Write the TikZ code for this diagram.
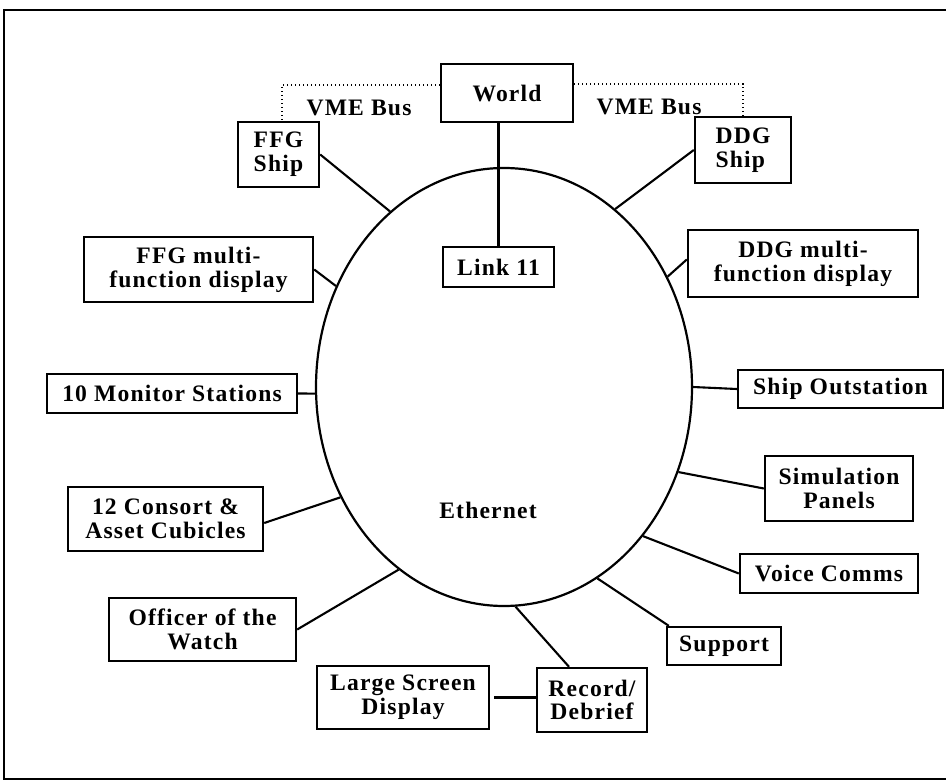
\documentclass[tikz,border=0pt]{standalone}
\usepackage{fontspec}
\setmainfont{Liberation Serif}[LetterSpace=5]
\usetikzlibrary{shapes.geometric}
\begin{document}
\begin{tikzpicture}[x=0.5pt,y=-0.5pt,
  box/.style={draw, line width=1.2pt, inner sep=0pt, align=center,
    font=\fontsize{11.8}{11.9}\selectfont\bfseries},
  lbl/.style={inner sep=0pt, font=\fontsize{11.8}{11.9}\selectfont\bfseries},
  conn/.style={line width=1.05pt},
  bus/.style={line width=0.75pt, dash pattern=on 0.6pt off 1.4pt},
  frame/.style={line width=1.2pt}]
\useasboundingbox (0,0) rectangle (946,780);
\draw[frame] (970,10) -- (4,10) -- (4,779) -- (970,779);

\node[draw, ellipse, line width=1.1pt, inner sep=0pt, minimum width=188pt, minimum height=219pt] (eth) at (504,387) {};
\node[lbl] (ethl) at (488,510) {Ethernet};

\node[box, minimum width=66pt, minimum height=29pt] (world) at (507,93) {World};
\node[box, align=left, minimum width=40.5pt, minimum height=32.5pt] (ffg) at (278.5,154.5) {FFG\\Ship};
\node[box, align=left, minimum width=48pt, minimum height=33pt] (ddg) at (743,150) {DDG\\Ship};
\node[box, minimum width=55.5pt, minimum height=20pt] (link) at (498.5,267) {Link 11};
\node[box, minimum width=114.5pt, minimum height=32.5pt] (ffgm) at (198.5,269.5) {FFG multi-\\function display};
\node[box, minimum width=125pt, minimum height=19.5pt] (mon) at (172,393.5) {10 Monitor Stations};
\node[box, minimum width=115pt, minimum height=33.5pt] (ddgm) at (803,263.5) {DDG multi-\\function display};
\node[box, minimum width=102.5pt, minimum height=19pt] (ship) at (840.5,389) {Ship Outstation};
\node[box, minimum width=97.5pt, minimum height=32pt] (cons) at (165.5,519) {12 Consort \&\\Asset Cubicles};
\node[box, minimum width=93.5pt, minimum height=31.5pt] (off) at (202.5,629.5) {Officer of the\\Watch};
\node[box, minimum width=86pt, minimum height=31.5pt] (lsd) at (403,697.5) {Large Screen\\Display};
\node[box, minimum width=55pt, minimum height=32pt] (rec) at (592,700) {Record/\\Debrief};
\node[box, minimum width=57pt, minimum height=19pt] (sup) at (724,646) {Support};
\node[box, minimum width=89pt, minimum height=19.5pt] (voice) at (829,573.5) {Voice Comms};
\node[box, minimum width=74pt, minimum height=32.5pt] (sim) at (839,488.5) {Simulation\\Panels};

\node[lbl] (vmel) at (359,108) {VME Bus};
\node[lbl] (vmer) at (649,107) {VME Bus};

% VME bus dotted links
\draw[bus] ([yshift=4pt]world.west) -| ([xshift=1.75pt]ffg.north);
\draw[bus] ([yshift=4.5pt]world.east) -| (ddg.north);

% World to Link 11
\draw[conn] (link.north) -- (link.north |- world.south);

% Ethernet connections
\draw[conn] (ffg.east) -- (eth.123.5);
\draw[conn] (ddg.west) -- (eth.58.7);
\draw[conn] (ffgm.east) -- (eth.149.2);
\draw[conn] ([yshift=2pt]ddgm.west) -- (eth.34.8);
\draw[conn] (mon.east) -- (eth.182.8);
\draw[conn] (ship.west) -- (eth.0);
\draw[conn] ([yshift=-2pt]cons.east) -- (eth.214.3);
\draw[conn] (off.east) -- (eth.240.1);
\draw[conn] ([xshift=-11.5pt]rec.north) -- (eth.273.4);
\draw[conn] ([xshift=1.5pt]sup.north west) -- (eth.296.4);
\draw[conn] (voice.west) -- (eth.313.3);
\draw[conn] (sim.west) -- (eth.334);
\draw[conn] ([xshift=2pt]lsd.east) -- (lsd.east -| rec.west);
\end{tikzpicture}
\end{document}
